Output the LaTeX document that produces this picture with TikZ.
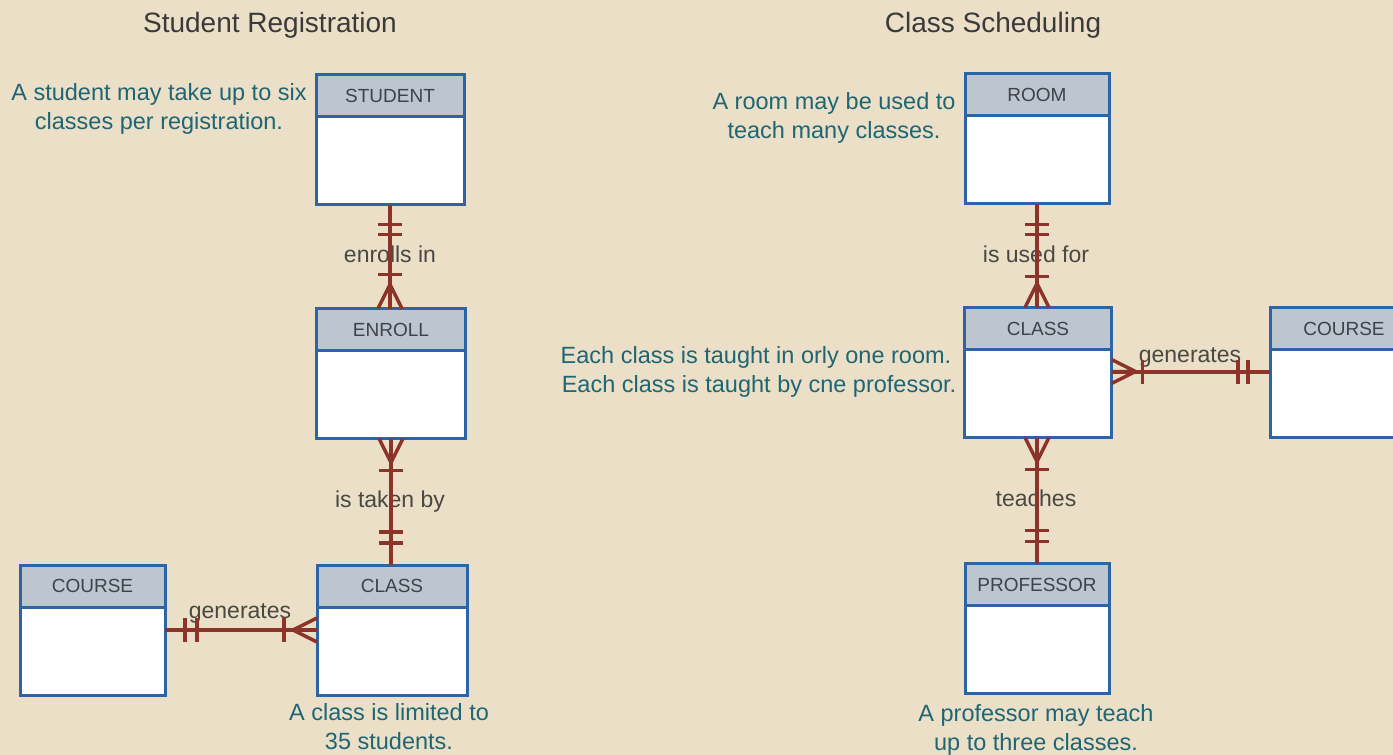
\documentclass[tikz,border=0pt]{standalone}
\usepackage{fontspec}
\setmainfont{Liberation Sans}
\usetikzlibrary{calc}

\definecolor{paper}{RGB}{235,223,199}
\definecolor{boxline}{RGB}{44,100,168}
\definecolor{headfill}{RGB}{189,197,207}
\definecolor{headtext}{RGB}{62,66,74}
\definecolor{relline}{RGB}{140,52,42}
\definecolor{notetext}{RGB}{30,102,116}
\definecolor{titletext}{RGB}{58,58,58}
\definecolor{labeltext}{RGB}{74,72,66}

\tikzset{
  ehead/.style={draw=boxline, line width=3pt, fill=headfill, text=headtext,
    minimum height=42pt, inner sep=0pt, outer sep=0pt, anchor=north,
    font=\fontsize{19}{19}\selectfont},
  ebody/.style={draw=boxline, line width=3pt, fill=white,
    minimum height=88pt, inner sep=0pt, outer sep=0pt, anchor=north},
  title/.style={text=titletext, inner sep=0pt, anchor=base,
    font=\fontsize{28}{28}\selectfont},
  note/.style={text=notetext, inner sep=0pt, anchor=north, align=center,
    font=\fontsize{23.5}{29.5}\selectfont},
  rlabel/.style={text=labeltext, inner sep=0pt, anchor=base,
    font=\fontsize{23}{23}\selectfont},
  rel/.style={draw=relline, line width=4pt},
  relbar/.style={draw=relline, line width=3.5pt},
  bar/.pic={\draw[relbar] (-12pt,0pt) -- (12pt,0pt);},
  crow/.pic={\draw[relbar, line join=round]
      (0pt,12pt) -- (24pt,0pt) -- (0pt,-12pt) (24pt,0pt) -- (0pt,0pt);},
}

\begin{document}
\begin{tikzpicture}[x=1pt, y=-1pt]
  % page and background
  \clip (0,0) rectangle (1393,755);
  \fill[paper] (0,0) rectangle (1393,755);

  % section titles
  \node[title] (titleA) at (270,32) {Student Registration};
  \node[title] (titleB) at (993,32) {Class Scheduling};

  % ---------- Student Registration ----------
  \node[ehead, minimum width=148pt] (studentH) at (390,74.5) {STUDENT};
  \node[ebody, minimum width=148pt] (student) at (studentH.south) {};

  \node[ehead, minimum width=149pt] (enrollH) at (391,308.5) {ENROLL};
  \node[ebody, minimum width=149pt] (enroll) at (enrollH.south) {};

  \node[ehead, minimum width=150pt] (classLH) at (392,565) {CLASS};
  \node[ebody, minimum width=150pt] (classL) at (classLH.south) {};

  \node[ehead, minimum width=145pt] (courseLH) at (92.5,565) {COURSE};
  \node[ebody, minimum width=145pt] (courseL) at (courseLH.south) {};

  \node[note] (noteStudent) at (159,83)
    {A student may take up to six\\classes per registration.};
  \node[note] (noteClassL) at (389,703)
    {A class is limited to\\35 students.};

  \node[rlabel] (enrollsIn) at (390,262) {enrolls in};
  \node[rlabel] (takenBy) at (390,507) {is taken by};
  \node[rlabel] (generatesL) at (240,618) {generates};

  % STUDENT -- ENROLL
  \draw[rel] (student.south) -- (enrollH.north -| student.south);
  \pic at ([yshift=-20pt]student.south) {bar};
  \pic at ([yshift=-30pt]student.south) {bar};
  \pic at ([yshift=34pt]enrollH.north -| student.south) {bar};
  \pic[rotate=90] at (enrollH.north -| student.south) {crow};

  % ENROLL -- CLASS
  \draw[rel] (enroll.south) -- (classLH.north -| enroll.south);
  \pic[rotate=-90] at (enroll.south) {crow};
  \pic at ([yshift=-32pt]enroll.south) {bar};
  \pic at ([yshift=33pt]classLH.north -| enroll.south) {bar};
  \pic at ([yshift=22pt]classLH.north -| enroll.south) {bar};

  % COURSE -- CLASS
  \coordinate (genLa) at ([yshift=21pt]courseL.east);
  \coordinate (genLb) at (classL.west |- genLa);
  \draw[rel] (genLa) -- (genLb);
  \pic[rotate=90] at ([xshift=20pt]genLa) {bar};
  \pic[rotate=90] at ([xshift=32pt]genLa) {bar};
  \pic[rotate=90] at ([xshift=-33pt]genLb) {bar};
  \pic[rotate=180] at (genLb) {crow};

  % ---------- Class Scheduling ----------
  \node[ehead, minimum width=144pt] (roomH) at (1037,73.5) {ROOM};
  \node[ebody, minimum width=144pt] (room) at (roomH.south) {};

  \node[ehead, minimum width=147pt] (classRH) at (1038,307.5) {CLASS};
  \node[ebody, minimum width=147pt] (classR) at (classRH.south) {};

  \node[ehead, minimum width=144pt] (profH) at (1037,563.5) {PROFESSOR};
  \node[ebody, minimum width=144pt] (prof) at (profH.south) {};

  \node[ehead, minimum width=148pt] (courseRH) at (1344,307.5) {COURSE};
  \node[ebody, minimum width=148pt] (courseR) at (courseRH.south) {};

  \node[note] (noteRoom) at (834,92)
    {A room may be used to\\teach many classes.};
  \node[note] (noteClassR) at (756,346)
    {Each class is taught in orly one room.\\\hspace*{6pt}Each class is taught by cne professor.};
  \node[note] (noteProf) at (1036,704)
    {A professor may teach\\up to three classes.};

  \node[rlabel] (usedFor) at (1036,262) {is used for};
  \node[rlabel] (teaches) at (1036,506) {teaches};
  \node[rlabel] (generatesR) at (1190,362) {generates};

  % ROOM -- CLASS
  \draw[rel] (room.south) -- (classRH.north -| room.south);
  \pic at ([yshift=-21pt]room.south) {bar};
  \pic at ([yshift=-31pt]room.south) {bar};
  \pic at ([yshift=31pt]classRH.north -| room.south) {bar};
  \pic[rotate=90] at (classRH.north -| room.south) {crow};

  % CLASS -- PROFESSOR
  \draw[rel] (classR.south -| profH.north) -- (profH.north);
  \pic[rotate=-90] at (classR.south -| profH.north) {crow};
  \pic at ([yshift=-32pt]classR.south -| profH.north) {bar};
  \pic at ([yshift=33pt]profH.north) {bar};
  \pic at ([yshift=22pt]profH.north) {bar};

  % CLASS -- COURSE
  \coordinate (genRa) at ([yshift=22pt]classR.east);
  \coordinate (genRb) at (courseR.west |- genRa);
  \draw[rel] (genRa) -- (genRb);
  \pic at (genRa) {crow};
  \pic[rotate=90] at ([xshift=31pt]genRa) {bar};
  \pic[rotate=90] at ([xshift=-32pt]genRb) {bar};
  \pic[rotate=90] at ([xshift=-22pt]genRb) {bar};
\end{tikzpicture}
\end{document}
